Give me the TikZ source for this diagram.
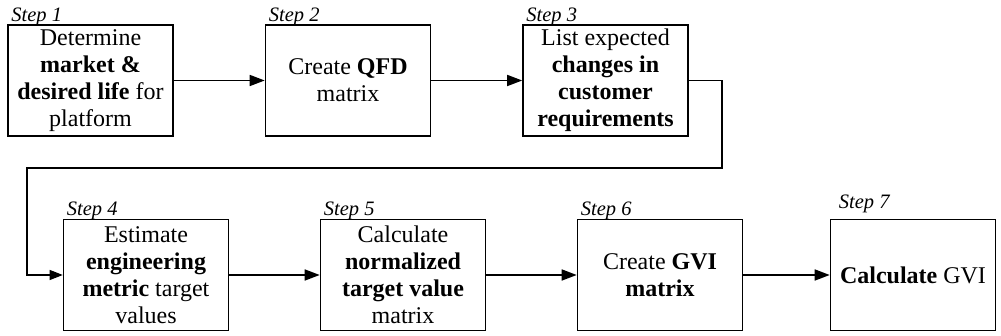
\documentclass[tikz,border=0pt]{standalone}
\usepackage{fontspec}
\setmainfont{Liberation Serif}
\usetikzlibrary{arrows.meta}

\tikzset{
  stepbox/.style={draw=black, line width=1.6pt, minimum width=165pt, minimum height=111pt,
    inner sep=0pt, align=center, font=\fontsize{24}{27}\selectfont},
  steplabel/.style={anchor=base west, inner sep=0pt, font=\fontsize{20.5}{22}\selectfont\itshape},
  flow/.style={line width=1.6pt, -{Triangle[length=15pt,width=11pt]}},
  loopflow/.style={line width=1.2pt, -{Triangle[length=13pt,width=10pt]}}
}

\begin{document}
\begin{tikzpicture}[x=1pt, y=-1pt]
            \def\rowA{80.5}
            \def\rowB{275}
            \useasboundingbox (0,0) rectangle (1001,336);

            % first row
            \node[stepbox] (b1) at (90.5,\rowA) {Determine\\ \textbf{market \&}\\ \textbf{desired life} for\\ platform};
            \node[stepbox] (b2) at (348,\rowA) {Create \textbf{QFD}\\ matrix};
            \node[stepbox] (b3) at (605.5,\rowA) {List expected\\ \textbf{changes in}\\ \textbf{customer}\\ \textbf{requirements}};

            % second row
            \node[stepbox] (b4) at (146,\rowB) {Estimate\\ \textbf{engineering}\\ \textbf{metric} target\\ values};
            \node[stepbox] (b5) at (403,\rowB) {Calculate\\ \textbf{normalized}\\ \textbf{target value}\\ matrix};
            \node[stepbox] (b6) at (660,\rowB) {Create \textbf{GVI}\\ \textbf{matrix}};
            \node[stepbox] (b7) at (913,\rowB) {\textbf{Calculate} GVI};

            \node[steplabel] (s1) at ([xshift=4pt, yshift=3pt]b1.north west) {Step 1};
            \node[steplabel] (s2) at ([xshift=4pt, yshift=3pt]b2.north west) {Step 2};
            \node[steplabel] (s3) at ([xshift=4pt, yshift=3pt]b3.north west) {Step 3};
            \node[steplabel] (s4) at ([xshift=4pt, yshift=3pt]b4.north west) {Step 4};
            \node[steplabel] (s5) at ([xshift=4pt, yshift=3pt]b5.north west) {Step 5};
            \node[steplabel] (s6) at ([xshift=4pt, yshift=3pt]b6.north west) {Step 6};
            \node[steplabel] (s7) at ([xshift=9pt, yshift=10pt]b7.north west) {Step 7};

            \draw[flow] (b1) -- (b2);
            \draw[flow] (b2) -- (b3);
            \draw[flow] (b4) -- (b5);
            \draw[flow] (b5) -- (b6);
            \draw[flow] (b6) -- (b7);

            % wrap round to the second row
            \coordinate (turnR) at (722,168);
            \coordinate (turnL) at (27,168);
            \draw[loopflow] (b3.east) -| (turnR) -- (turnL) |- (b4.west);

        \end{tikzpicture}
\end{document}
